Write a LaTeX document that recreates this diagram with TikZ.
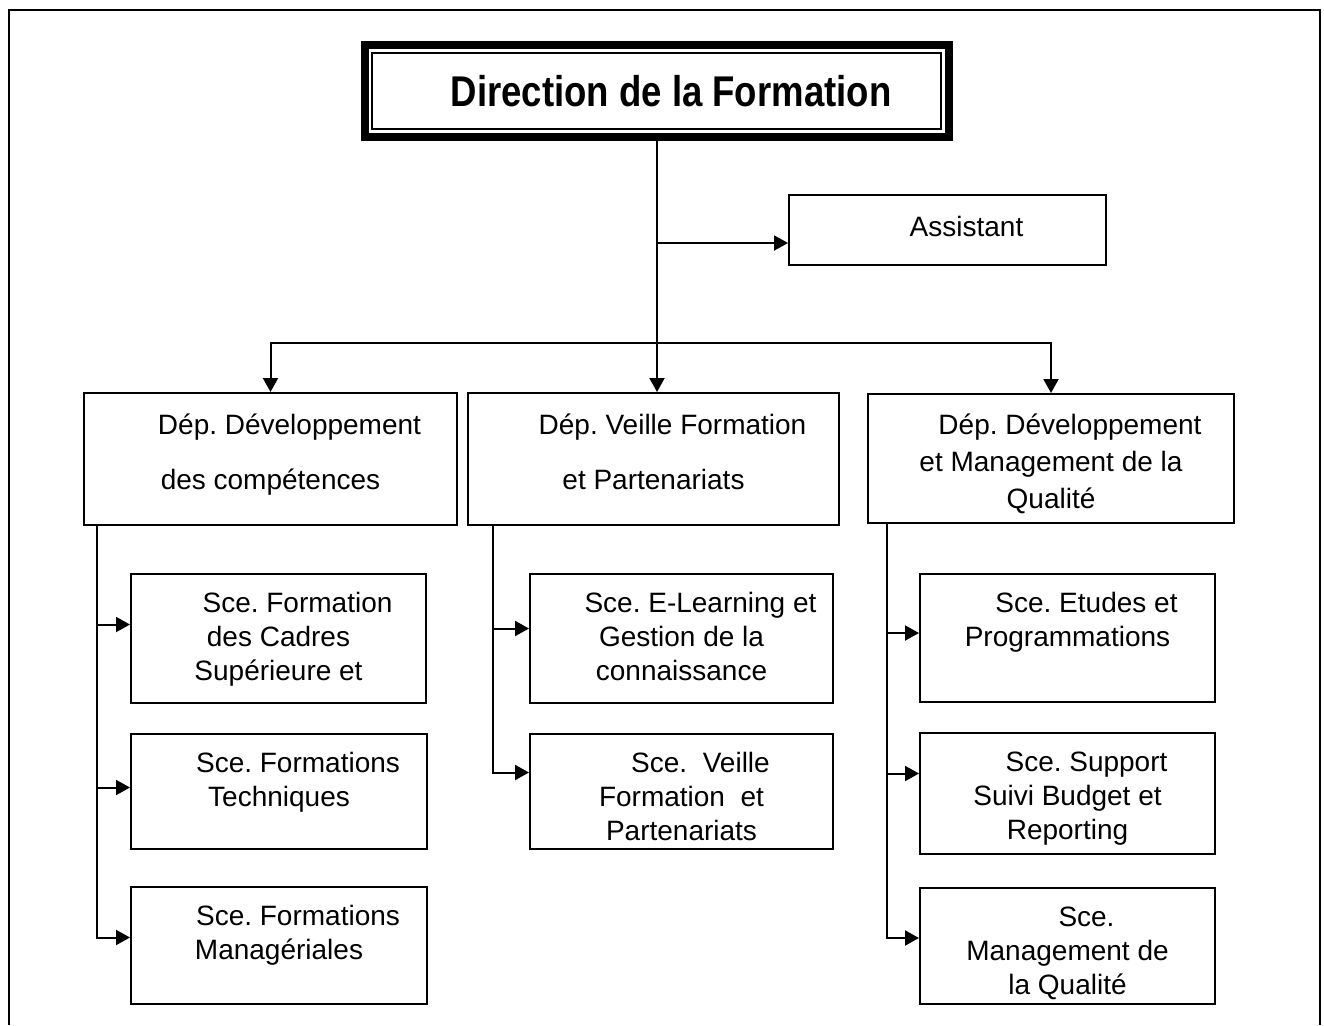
\documentclass[tikz,border=0pt]{standalone}
\usepackage{fontspec}
\setmainfont{Liberation Sans}
\newfontfamily\titlefont{Liberation Sans}[FakeStretch=0.85]
\usetikzlibrary{arrows.meta}
\frenchspacing

\newcommand{\indnt}{\hspace*{38pt}}
\newcommand{\boxtxt}[4][38pt]{\parbox[t][#3][t]{#2}{\centering\rule{0pt}{#1}#4}}

\begin{document}
\begin{tikzpicture}[x=1pt,y=-1pt,
  box/.style={draw,line width=2pt,inner sep=0pt,anchor=north west,
    font=\fontsize{28}{34}\selectfont},
  titlebox/.style={draw,line width=8pt,inner sep=0pt,minimum width=584pt,
    minimum height=92pt,font=\titlefont\bfseries\fontsize{43}{48}\selectfont},
  arr/.style={line width=2pt,-{Triangle[length=14pt,width=15pt]}}]

\useasboundingbox (0,0) rectangle (1324,1025);
\draw[line width=2pt] (9,1025) -- (9,10) -- (1320,10) -- (1320,1025);

% direction
\node[titlebox] (dir) at (657,91) {\hspace*{28pt}Direction de la Formation};
\draw[line width=2pt] ([shift={(11pt,-12pt)}]dir.north west)
  rectangle ([shift={(-12pt,12pt)}]dir.south east);

\node[box] (asst) at (788,194) {\boxtxt[41pt]{317pt}{70pt}{\indnt Assistant}};

% departements
\node[box] (d1) at (83,392) {\boxtxt[41pt]{373pt}{132pt}{\indnt Dép. Développement\\[21pt] des compétences}};
\node[box] (d2) at (467,392) {\boxtxt[41pt]{371pt}{132pt}{\indnt Dép. Veille Formation\\[21pt] et Partenariats}};
\node[box] (d3) at (867,393) {\boxtxt[40pt]{366pt}{129pt}{\indnt Dép. Développement\\[3pt] et Management de la\\[3pt] Qualité}};

% services
\node[box] (s11) at (130,573) {\boxtxt{295pt}{129pt}{\indnt Sce. Formation\\ des Cadres\\ Supérieure et}};
\node[box] (s12) at (130,733) {\boxtxt{296pt}{115pt}{\indnt Sce. Formations\\ Techniques}};
\node[box] (s13) at (130,886) {\boxtxt{296pt}{117pt}{\indnt Sce. Formations\\ Managériales}};

\node[box] (s21) at (529,573) {\boxtxt{303pt}{129pt}{\indnt Sce. E-Learning et\\ Gestion de la\\ connaissance}};
\node[box] (s22) at (529,733) {\boxtxt{303pt}{115pt}{\indnt Sce.\ \ Veille\\ Formation\ \ et\\ Partenariats}};

\node[box] (s31) at (919,573) {\boxtxt{295pt}{128pt}{\indnt Sce. Etudes et\\ Programmations}};
\node[box] (s32) at (919,732) {\boxtxt{295pt}{121pt}{\indnt Sce. Support\\ Suivi Budget et\\ Reporting}};
\node[box] (s33) at (919,887) {\boxtxt{295pt}{116pt}{\indnt Sce.\\ Management de\\ la Qualité}};

% liaisons
\coordinate (bus) at (dir.south |- 0,343);
\coordinate (a1) at ([yshift=-13pt]asst.west);
\draw[arr] (dir.south) -- (dir.south |- d2.north);
\draw[arr] (dir.south |- a1) -- (a1);
\draw[arr] (bus) -| (d1.north);
\draw[arr] (bus) -| (d3.north);

\coordinate (c1) at ([xshift=14pt]d1.south west);
\coordinate (c2) at ([xshift=26pt]d2.south west);
\coordinate (c3) at ([xshift=20pt]d3.south west);

\draw[arr] (c1) |- ([yshift=14pt]s11.west);
\draw[arr] (c1) |- ([yshift=4pt]s12.west);
\draw[arr] (c1) |- ([yshift=8pt]s13.west);

\draw[arr] (c2) |- ([yshift=10pt]s21.west);
\draw[arr] (c2) |- ([yshift=19pt]s22.west);

\draw[arr] (c3) |- ([yshift=5pt]s31.west);
\draw[arr] (c3) |- ([yshift=20pt]s32.west);
\draw[arr] (c3) |- ([yshift=8pt]s33.west);

\end{tikzpicture}
\end{document}
